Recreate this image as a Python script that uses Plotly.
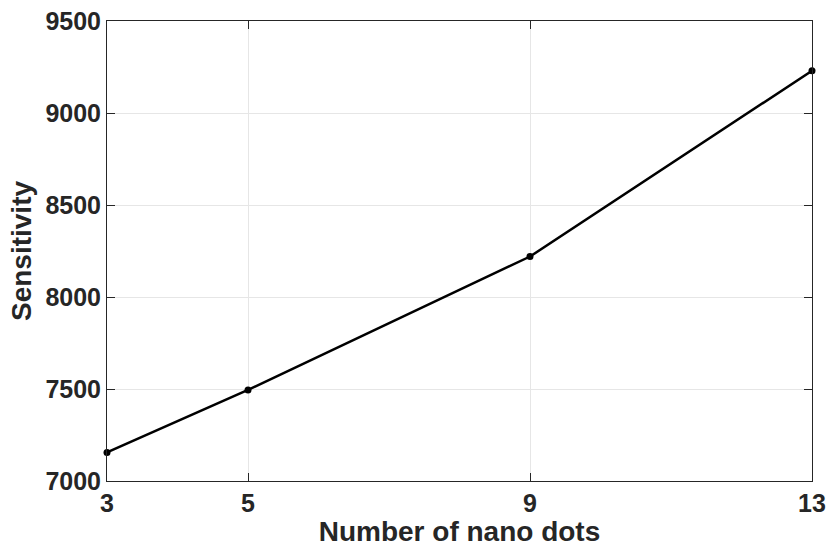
import plotly.graph_objects as go

x_vals = [3, 5, 9, 13]
sensitivity = [7155, 7495, 8220, 9230]
x_ticks = [3, 5, 9, 13]
y_ticks = [7000, 7500, 8000, 8500, 9000, 9500]

fig = go.Figure()
fig.add_trace(go.Scatter(
    x=x_vals, y=sensitivity, mode="lines+markers",
    line=dict(color="black", width=2.5),
    marker=dict(color="black", size=7),
    showlegend=False, cliponaxis=False,
))

font_family = "Liberation Sans, Arial, Helvetica, sans-serif"
axis_common = dict(
    showline=True, mirror="ticks", linecolor="#262626", linewidth=1,
    ticks="inside", ticklen=8, tickcolor="#262626", tickwidth=1,
    showgrid=True, gridcolor="#e6e6e6", gridwidth=1, zeroline=False,
    automargin=False,
    tickfont=dict(family=font_family, size=25, color="#262626", weight="bold"),
)

fig.update_layout(
    width=827, height=547,
    margin=dict(l=107, r=15, t=21, b=66),
    paper_bgcolor="white", plot_bgcolor="white",
    xaxis=dict(
        range=[3, 13], tickvals=x_ticks, ticktext=[str(v) for v in x_ticks],
        title=dict(text="<b>Number of nano dots</b>", standoff=5,
                   font=dict(family=font_family, size=28, color="#262626")),
        **axis_common,
    ),
    yaxis=dict(
        range=[7000, 9500], tickvals=y_ticks, ticktext=[str(v) for v in y_ticks],
        title=dict(text="<b>Sensitivity</b>", standoff=5,
                   font=dict(family=font_family, size=28, color="#262626")),
        **axis_common,
    ),
)

fig.write_html("out.html")
